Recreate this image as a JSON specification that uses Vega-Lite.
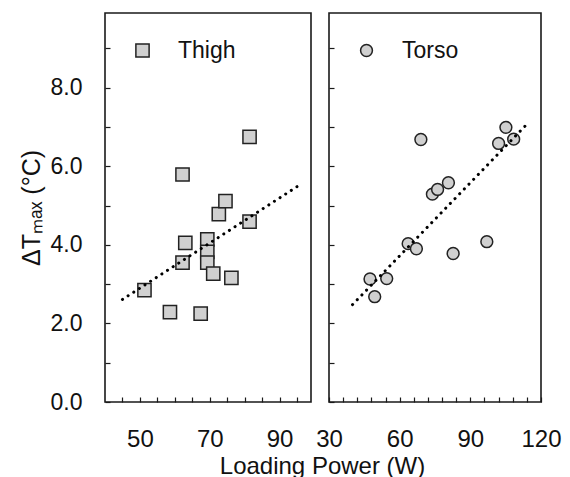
{
  "$schema": "https://vega.github.io/schema/vega-lite/v6.json",
  "background": "white",
  "padding": {"left": 18, "top": 12, "right": 5, "bottom": 5},
  "datasets": {
    "pts": [
      {"panel": "Thigh", "power": 51.3, "dt": 2.85},
      {"panel": "Thigh", "power": 58.6, "dt": 2.29},
      {"panel": "Thigh", "power": 62.2, "dt": 5.79},
      {"panel": "Thigh", "power": 63.0, "dt": 4.05},
      {"panel": "Thigh", "power": 62.2, "dt": 3.55},
      {"panel": "Thigh", "power": 67.4, "dt": 2.25},
      {"panel": "Thigh", "power": 69.3, "dt": 4.14},
      {"panel": "Thigh", "power": 69.3, "dt": 3.82},
      {"panel": "Thigh", "power": 69.3, "dt": 3.55},
      {"panel": "Thigh", "power": 71.0, "dt": 3.27},
      {"panel": "Thigh", "power": 72.6, "dt": 4.78},
      {"panel": "Thigh", "power": 74.5, "dt": 5.11},
      {"panel": "Thigh", "power": 76.2, "dt": 3.16},
      {"panel": "Thigh", "power": 81.4, "dt": 4.59},
      {"panel": "Thigh", "power": 81.4, "dt": 6.75},
      {"panel": "Torso", "power": 47.4, "dt": 3.13},
      {"panel": "Torso", "power": 49.4, "dt": 2.68},
      {"panel": "Torso", "power": 54.5, "dt": 3.14},
      {"panel": "Torso", "power": 63.6, "dt": 4.03},
      {"panel": "Torso", "power": 67.1, "dt": 3.90},
      {"panel": "Torso", "power": 69.0, "dt": 6.68},
      {"panel": "Torso", "power": 73.9, "dt": 5.29},
      {"panel": "Torso", "power": 76.1, "dt": 5.41},
      {"panel": "Torso", "power": 80.7, "dt": 5.58},
      {"panel": "Torso", "power": 82.7, "dt": 3.78},
      {"panel": "Torso", "power": 97.0, "dt": 4.08},
      {"panel": "Torso", "power": 102.0, "dt": 6.58},
      {"panel": "Torso", "power": 105.1, "dt": 6.99},
      {"panel": "Torso", "power": 108.4, "dt": 6.69}
    ],
    "fit": [
      {"panel": "Thigh", "power": 45, "dt": 2.61},
      {"panel": "Thigh", "power": 95, "dt": 5.48},
      {"panel": "Torso", "power": 40, "dt": 2.48},
      {"panel": "Torso", "power": 114, "dt": 7.07}
    ]
  },
  "config": {
    "font": "Liberation Sans",
    "view": {"stroke": "#1a1a1a", "strokeWidth": 1.6},
    "axis": {
      "domain": false,
      "grid": false,
      "ticks": true,
      "tickSize": -5,
      "tickColor": "#1a1a1a",
      "tickWidth": 1.2,
      "labelFont": "Liberation Sans",
      "labelFontSize": 23,
      "labelColor": "#111",
      "titleFont": "Liberation Sans",
      "titleFontSize": 22,
      "titleFontWeight": "normal",
      "titleColor": "#111"
    },
    "legend": {
      "labelFont": "Liberation Sans",
      "labelFontSize": 23,
      "labelColor": "#111"
    }
  },
  "spacing": 18,
  "bounds": "flush",
  "resolve": {"scale": {"shape": "independent", "x": "independent"}, "legend": {"shape": "independent"}},
  "hconcat": [
    {
      "width": 206,
      "height": 389,
      "resolve": {"axis": {"x": "independent"}},
      "layer": [
        {
          "data": {"name": "pts"},
          "transform": [{"filter": "datum.panel === 'Thigh'"}],
          "mark": {"type": "point", "filled": true, "fill": "#d0d0d0", "stroke": "#222", "strokeWidth": 1.5, "size": 175, "opacity": 1},
          "encoding": {
            "x": {"field": "power", "type": "quantitative",
              "scale": {"domain": [40, 99], "nice": false, "zero": false},
              "axis": {"orient": "bottom", "values": [50, 70, 90],
                "labelFlush": false, "labelFontSize": 24,
                "labelPadding": 30,
                "title": "Loading Power (W)", "titleFontSize": 24, "titleX": 217, "titleAlign": "center", "titleAnchor": null, "titlePadding": 3}},
            "y": {"field": "dt", "type": "quantitative",
              "scale": {"domain": [0, 9.9], "nice": false},
              "axis": {"values": [0, 0.5, 1, 1.5, 2, 2.5, 3, 3.5, 4, 4.5, 5, 5.5, 6, 6.5, 7, 7.5, 8, 8.5, 9, 9.5],
                "labelExpr": "datum.value % 2 === 0 ? format(datum.value, '.1f') : ''",
                "labelOverlap": false, "labelFlush": false,
                "labelPadding": 28,
                "title": "ΔTₘₐₓ (°C)", "titleFontSize": 25, "titlePadding": 6}},
            "shape": {"field": "panel", "type": "nominal",
              "scale": {"range": ["square"]},
              "legend": {"title": null, "orient": "none", "legendX": 26, "legendY": 26,
                "symbolSize": 175, "labelOffset": 24,
                "encode": {"symbols": {"update": {"fill": {"value": "#d0d0d0"}, "stroke": {"value": "#222"}, "strokeWidth": {"value": 1.5}, "opacity": {"value": 1}}}}}}
          }
        },
        {
          "data": {"name": "fit"},
          "transform": [{"filter": "datum.panel === 'Thigh'"}],
          "mark": {"type": "line", "color": "#000", "strokeWidth": 3, "strokeDash": [0.1, 6.6], "strokeCap": "round"},
          "encoding": {
            "x": {"field": "power", "type": "quantitative",
              "axis": {"orient": "bottom", "values": [45, 55, 60, 65, 75, 80, 85, 95], "labels": false, "title": null}},
            "y": {"field": "dt", "type": "quantitative"}
          }
        }
      ]
    },
    {
      "width": 212,
      "height": 389,
      "resolve": {"axis": {"x": "independent"}},
      "layer": [
        {
          "data": {"name": "pts"},
          "transform": [{"filter": "datum.panel === 'Torso'"}],
          "mark": {"type": "point", "filled": true, "fill": "#d0d0d0", "stroke": "#222", "strokeWidth": 1.5, "size": 140, "opacity": 1},
          "encoding": {
            "x": {"field": "power", "type": "quantitative",
              "scale": {"domain": [30, 120], "nice": false, "zero": false},
              "axis": {"orient": "bottom", "values": [30, 60, 90, 120],
                "labelFlush": false, "labelFontSize": 24,
                "labelPadding": 30,
                "title": null}},
            "y": {"field": "dt", "type": "quantitative",
              "scale": {"domain": [0, 9.9], "nice": false},
              "axis": {"values": [0, 0.5, 1, 1.5, 2, 2.5, 3, 3.5, 4, 4.5, 5, 5.5, 6, 6.5, 7, 7.5, 8, 8.5, 9, 9.5],
                "labels": false, "title": null}},
            "shape": {"field": "panel", "type": "nominal",
              "scale": {"range": ["circle"]},
              "legend": {"title": null, "orient": "none", "legendX": 26, "legendY": 26,
                "symbolSize": 140, "labelOffset": 24,
                "encode": {"symbols": {"update": {"fill": {"value": "#d0d0d0"}, "stroke": {"value": "#222"}, "strokeWidth": {"value": 1.5}, "opacity": {"value": 1}}}}}}
          }
        },
        {
          "data": {"name": "fit"},
          "transform": [{"filter": "datum.panel === 'Torso'"}],
          "mark": {"type": "line", "color": "#000", "strokeWidth": 3, "strokeDash": [0.1, 6.6], "strokeCap": "round"},
          "encoding": {
            "x": {"field": "power", "type": "quantitative",
              "axis": {"orient": "bottom", "values": [36, 42, 48, 54, 66, 72, 78, 84, 96, 102, 108, 114], "labels": false, "title": null}},
            "y": {"field": "dt", "type": "quantitative"}
          }
        }
      ]
    }
  ]
}
